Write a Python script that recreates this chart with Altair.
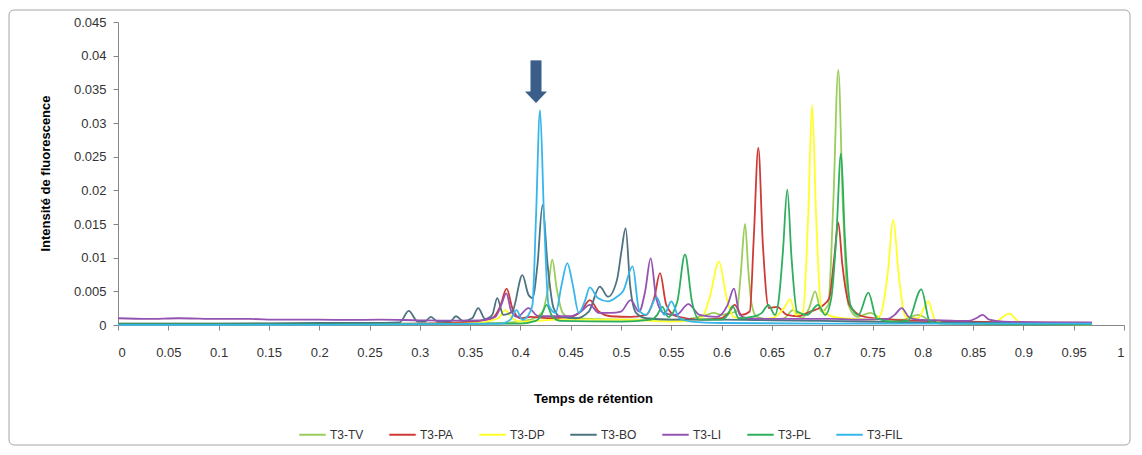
import altair as alt
import pandas as pd

# ---------------- data ----------------
series_names = ["T3-TV", "T3-PA", "T3-DP", "T3-BO", "T3-LI", "T3-PL", "T3-FIL"]
series_colors = ["#9ACD5B", "#CF3A36", "#FFFF26", "#4D7280", "#9452B2", "#2DAF5C", "#36B6EA"]

tv_x = [0, 0.1, 0.2, 0.3, 0.38, 0.41, 0.422, 0.4275, 0.4317, 0.436, 0.442, 0.45, 0.5, 0.56, 0.585, 0.592,
        0.6, 0.606, 0.615, 0.619, 0.6233, 0.6265, 0.63, 0.635, 0.65, 0.662, 0.671, 0.68, 0.687, 0.693, 0.699,
        0.706, 0.711, 0.716, 0.7205, 0.726, 0.735, 0.748, 0.76, 0.78, 0.7955, 0.81, 0.9, 0.968]
tv_y = [0.0002, 0.0002, 0.0002, 0.0002, 0.0003, 0.0008, 0.002, 0.0055, 0.0097, 0.0055, 0.0018, 0.001, 0.0008,
        0.0008, 0.0015, 0.0018, 0.0015, 0.0017, 0.002, 0.0075, 0.015, 0.0082, 0.003, 0.0012, 0.0008, 0.001,
        0.0022, 0.001, 0.0025, 0.005, 0.002, 0.003, 0.018, 0.0379, 0.018, 0.003, 0.0012, 0.0018, 0.0008,
        0.0008, 0.0015, 0.0005, 0.0003, 0.0002]

pa_x = [0, 0.1, 0.2, 0.3, 0.35, 0.372, 0.38, 0.3863, 0.392, 0.40, 0.41, 0.43, 0.45, 0.46, 0.469, 0.478, 0.49,
        0.51, 0.525, 0.533, 0.5388, 0.545, 0.555, 0.58, 0.6, 0.607, 0.613, 0.62, 0.628, 0.632, 0.6365, 0.641,
        0.647, 0.655, 0.665, 0.676, 0.688, 0.70, 0.707, 0.712, 0.716, 0.72, 0.727, 0.74, 0.76, 0.8, 0.9, 0.968]
pa_y = [0.0001, 0.0001, 0.0001, 0.0002, 0.0005, 0.001, 0.0028, 0.0054, 0.0025, 0.001, 0.0012, 0.001, 0.0012,
        0.002, 0.0037, 0.002, 0.0013, 0.0012, 0.0015, 0.004, 0.0077, 0.003, 0.0013, 0.0008, 0.001, 0.0018,
        0.003, 0.0015, 0.002, 0.013, 0.0263, 0.012, 0.0025, 0.0027, 0.0015, 0.0013, 0.002, 0.0028, 0.004,
        0.01, 0.0152, 0.009, 0.003, 0.0013, 0.0009, 0.0006, 0.0004, 0.0003]

dp_x = [0, 0.2, 0.35, 0.378, 0.385, 0.392, 0.40, 0.44, 0.5, 0.55, 0.58, 0.588, 0.5974, 0.605, 0.612, 0.63,
        0.65, 0.662, 0.668, 0.674, 0.681, 0.686, 0.690, 0.694, 0.699, 0.706, 0.72, 0.75, 0.758, 0.765, 0.7707,
        0.776, 0.783, 0.795, 0.8055, 0.812, 0.82, 0.87, 0.886, 0.898, 0.968]
dp_y = [0.0001, 0.0001, 0.0002, 0.001, 0.0022, 0.001, 0.0005, 0.0008, 0.0008, 0.0005, 0.001, 0.004, 0.0094,
        0.004, 0.0012, 0.0008, 0.001, 0.0025, 0.0038, 0.0015, 0.002, 0.016, 0.0327, 0.016, 0.0025, 0.0015,
        0.001, 0.0008, 0.0015, 0.0075, 0.0156, 0.0075, 0.0012, 0.001, 0.0035, 0.0008, 0.0003, 0.0003,
        0.0017, 0.0002, 0.0001]

bo_x = [0, 0.1, 0.2, 0.25, 0.28, 0.289, 0.298, 0.305, 0.311, 0.318, 0.33, 0.336, 0.343, 0.352, 0.358, 0.365,
        0.372, 0.377, 0.383, 0.392, 0.402, 0.408, 0.412, 0.417, 0.422, 0.427, 0.433, 0.44, 0.455, 0.468,
        0.479, 0.487, 0.496, 0.5005, 0.5046, 0.509, 0.515, 0.525, 0.55, 0.6, 0.65, 0.7, 0.8, 0.9, 0.968]
bo_y = [0.0002, 0.0002, 0.0003, 0.0003, 0.0004, 0.0021, 0.0005, 0.0005, 0.0012, 0.0005, 0.0005, 0.0013,
        0.0006, 0.001, 0.0025, 0.0009, 0.0015, 0.004, 0.0015, 0.002, 0.0074, 0.0045, 0.004, 0.009, 0.0178,
        0.009, 0.0025, 0.0012, 0.001, 0.002, 0.0057, 0.0042, 0.0067, 0.011, 0.0144, 0.006, 0.0018, 0.001,
        0.0008, 0.0008, 0.0007, 0.0006, 0.0004, 0.0003, 0.0002]

li_x = [0, 0.03, 0.06, 0.1, 0.13, 0.16, 0.2, 0.23, 0.26, 0.3, 0.33, 0.36, 0.375, 0.381, 0.386, 0.391, 0.397,
        0.408, 0.418, 0.43, 0.45, 0.46, 0.469, 0.478, 0.49, 0.5, 0.5096, 0.518, 0.524, 0.5295, 0.535, 0.542,
        0.555, 0.567, 0.578, 0.595, 0.606, 0.6123, 0.618, 0.625, 0.65, 0.68, 0.71, 0.74, 0.765, 0.772, 0.779,
        0.786, 0.795, 0.82, 0.845, 0.853, 0.8595, 0.866, 0.88, 0.92, 0.968]
li_y = [0.001, 0.0009, 0.001, 0.0009, 0.0009, 0.0008, 0.0008, 0.00075, 0.0008, 0.0007, 0.00065, 0.0007,
        0.0012, 0.003, 0.0047, 0.002, 0.0012, 0.0025, 0.0013, 0.0013, 0.0013, 0.002, 0.003, 0.0018, 0.0018,
        0.002, 0.0037, 0.002, 0.005, 0.0099, 0.004, 0.0018, 0.0015, 0.0031, 0.0015, 0.0012, 0.003, 0.0054,
        0.0015, 0.001, 0.0009, 0.0009, 0.0009, 0.0008, 0.0009, 0.0015, 0.0025, 0.0012, 0.0008, 0.0007,
        0.0006, 0.001, 0.0015, 0.0008, 0.0005, 0.0004, 0.0004]

pl_x = [0, 0.2, 0.4, 0.415, 0.421, 0.426, 0.432, 0.44, 0.5, 0.53, 0.536, 0.541, 0.547, 0.556, 0.5636, 0.5705,
        0.578, 0.6, 0.606, 0.611, 0.617, 0.63, 0.64, 0.6465, 0.653, 0.657, 0.661, 0.6653, 0.6695, 0.675,
        0.685, 0.696, 0.703, 0.709, 0.714, 0.7187, 0.7225, 0.728, 0.736, 0.7459, 0.754, 0.77, 0.785, 0.7985,
        0.807, 0.82, 0.9, 0.968]
pl_y = [0.0001, 0.0001, 0.0002, 0.0006, 0.0015, 0.003, 0.0012, 0.0006, 0.0005, 0.0008, 0.0015, 0.0027,
        0.0012, 0.0035, 0.0105, 0.0035, 0.0008, 0.0008, 0.0015, 0.0028, 0.001, 0.0012, 0.0018, 0.003, 0.0015,
        0.004, 0.011, 0.0201, 0.01, 0.002, 0.0015, 0.003, 0.0015, 0.004, 0.013, 0.0255, 0.013, 0.003, 0.0015,
        0.0048, 0.001, 0.0005, 0.0006, 0.0053, 0.0005, 0.0002, 0.0001, 0.0001]

fil_x = [0, 0.2, 0.38, 0.39, 0.396, 0.402, 0.408, 0.412, 0.4155, 0.4195, 0.4235, 0.428, 0.435, 0.441, 0.4466,
         0.452, 0.458, 0.464, 0.469, 0.477, 0.487, 0.496, 0.502, 0.5116, 0.518, 0.525, 0.5355, 0.543, 0.550,
         0.558, 0.57, 0.6, 0.7, 0.8, 0.968]
fil_y = [0.00003, 0.00003, 0.0002, 0.0008, 0.0022, 0.0008, 0.0015, 0.003, 0.016, 0.0319, 0.016, 0.003,
         0.0018, 0.006, 0.0092, 0.006, 0.0018, 0.0035, 0.0056, 0.004, 0.0035, 0.0042, 0.005, 0.0087, 0.0022,
         0.0015, 0.0041, 0.0015, 0.0035, 0.001, 0.0005, 0.0003, 0.0002, 0.0002, 0.0002]

x_ticks = [0, 0.05, 0.1, 0.15, 0.2, 0.25, 0.3, 0.35, 0.4, 0.45, 0.5, 0.55, 0.6, 0.65, 0.7, 0.75, 0.8, 0.85,
           0.9, 0.95, 1]
y_ticks = [0, 0.005, 0.01, 0.015, 0.02, 0.025, 0.03, 0.035, 0.04, 0.045]

# arrow annotation (x position, shaft top, shaft bottom, head centre)
arrow_x = [0.4155]
arrow_top = [0.0393]
arrow_bottom = [0.0342]
arrow_head = [0.03386]

# ---------------- build table ----------------
rows = []
for name, xs, ys in zip(series_names,
                        [tv_x, pa_x, dp_x, bo_x, li_x, pl_x, fil_x],
                        [tv_y, pa_y, dp_y, bo_y, li_y, pl_y, fil_y]):
    for i, (xv, yv) in enumerate(zip(xs, ys)):
        rows.append({"serie": name, "t": xv, "v": yv, "i": i})
df = pd.DataFrame(rows)

FONT = "Liberation Sans"
W, H = 1006, 303

xscale = alt.Scale(domain=[0, 1], nice=False, zero=True)
yscale = alt.Scale(domain=[0, 0.045], nice=False)

x_axis = alt.Axis(
    values=x_ticks, format=".2~f", title="Temps de rétention", grid=False, labelOverlap=False,
    tickSize=5, labelPadding=16, titleX=475, titleY=73, titleBaseline="middle",
    titleFontWeight="bold", titleFontSize=13, titleFont=FONT)
y_axis = alt.Axis(
    values=y_ticks, format=".3~f", title="Intensité de fluorescence", grid=False, labelOverlap=False,
    tickSize=5, labelPadding=7, titleX=-73, titleY=151, titleBaseline="middle",
    titleAngle=-90, titleFontWeight="bold", titleFontSize=13, titleFont=FONT)

lines = alt.Chart(df).mark_line(interpolate="monotone", strokeWidth=1.8).encode(
    x=alt.X("t:Q", scale=xscale, axis=x_axis, title="Temps de rétention"),
    y=alt.Y("v:Q", scale=yscale, axis=y_axis, title="Intensité de fluorescence"),
    color=alt.Color("serie:N", sort=series_names,
                    scale=alt.Scale(domain=series_names, range=series_colors),
                    legend=alt.Legend(title=None, orient="none", direction="horizontal",
                                      legendX=180, legendY=398, symbolType="stroke",
                                      symbolSize=700, symbolStrokeWidth=2, labelFontSize=12,
                                      labelFont=FONT, labelColor="#333333", columnPadding=21,
                                      labelOffset=3)),
    order="i:Q",
)

arrow_df = pd.DataFrame({"x": arrow_x, "top": arrow_top, "bottom": arrow_bottom, "head": arrow_head})
shaft = alt.Chart(arrow_df).mark_rule(strokeWidth=11, color="#3A5D8A").encode(
    x=alt.X("x:Q", scale=xscale, axis=x_axis, title="Temps de rétention"),
    y=alt.Y("top:Q", scale=yscale, axis=y_axis, title="Intensité de fluorescence"), y2="bottom:Q")
head = alt.Chart(arrow_df).mark_point(
    shape="M-1,-0.5L1,-0.5L0,0.55Z", filled=True, size=484, color="#3A5D8A", opacity=1, strokeWidth=0
).encode(x=alt.X("x:Q", scale=xscale, axis=x_axis, title="Temps de rétention"),
         y=alt.Y("head:Q", scale=yscale, axis=y_axis, title="Intensité de fluorescence"))

border = alt.Chart(pd.DataFrame({"a": [0]})).mark_rect(
    fill="transparent", stroke="#A6A6A6", strokeWidth=1, cornerRadius=5
).encode(x=alt.value(-109), x2=alt.value(1012), y=alt.value(-12), y2=alt.value(423))

chart = alt.layer(border, lines, shaft, head).properties(
    width=W, height=H,
    autosize=alt.AutoSizeParams(type="none"),
    padding={"left": 110, "top": 14, "right": 8, "bottom": 122},
).configure_view(stroke=None).configure_axis(
    domainColor="#868686", tickColor="#868686", labelColor="#333333",
    labelFont=FONT, labelFontSize=13, titleColor="#000000",
)

chart.save("out.html", embed_options={"renderer": "svg", "actions": False})
